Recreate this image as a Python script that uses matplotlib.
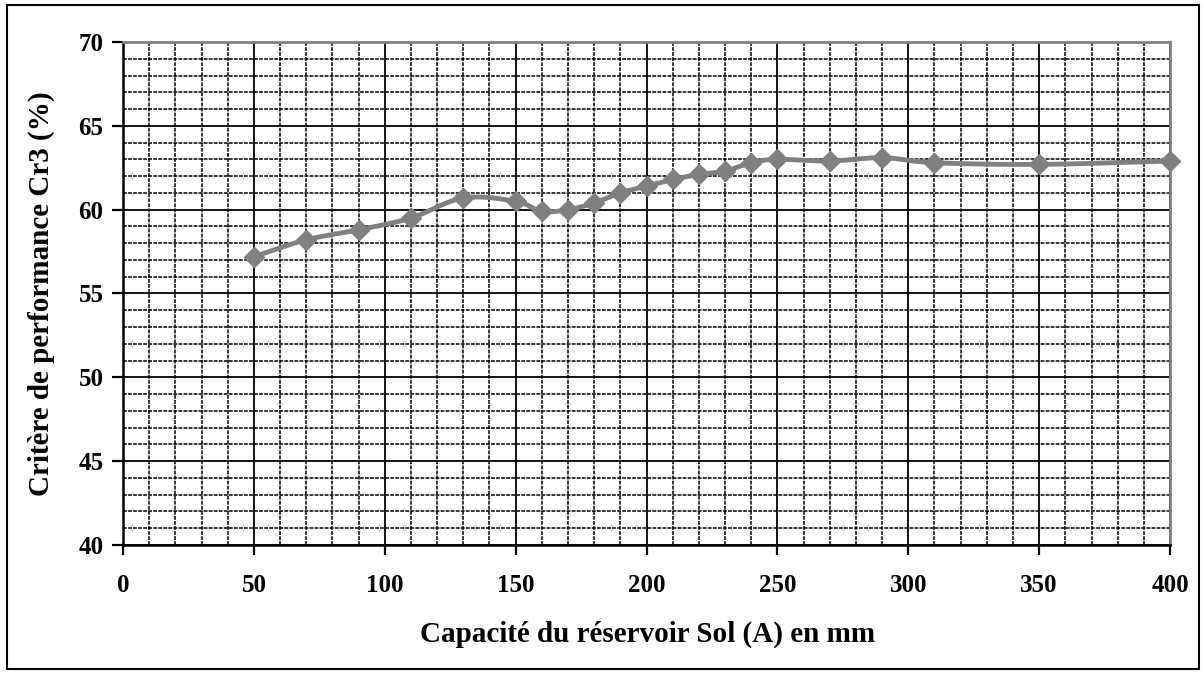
import numpy as np
import matplotlib
matplotlib.use("Agg")
from matplotlib import pyplot as plt
from matplotlib.patches import Rectangle

# data
capacite = [50, 70, 90, 110, 130, 150, 160, 170, 180, 190, 200, 210, 220,
            230, 240, 250, 270, 290, 310, 350, 400]
cr3 = [57.2, 58.2, 58.8, 59.5, 60.7, 60.5, 59.9, 60.0, 60.4, 61.0, 61.4,
       61.8, 62.1, 62.3, 62.8, 63.0, 62.9, 63.1, 62.8, 62.7, 62.9]


def smooth(x, y, n=20):
    # Catmull-Rom spline through the points (like Excel "smoothed line")
    x = np.asarray(x, float)
    y = np.asarray(y, float)
    px = np.concatenate([[2 * x[0] - x[1]], x, [2 * x[-1] - x[-2]]])
    py = np.concatenate([[2 * y[0] - y[1]], y, [2 * y[-1] - y[-2]]])
    xs, ys = [], []
    t = np.linspace(0, 1, n)
    for i in range(1, len(px) - 2):
        for p, out in ((px, xs), (py, ys)):
            p0, p1, p2, p3 = p[i - 1], p[i], p[i + 1], p[i + 2]
            out.extend(0.5 * ((2 * p1) + (-p0 + p2) * t
                              + (2 * p0 - 5 * p1 + 4 * p2 - p3) * t ** 2
                              + (-p0 + 3 * p1 - 3 * p2 + p3) * t ** 3))
    return xs, ys


plt.rcParams['font.family'] = ['Liberation Serif', 'DejaVu Serif']
plt.rcParams['font.weight'] = 'bold'

fig = plt.figure(figsize=(12.04, 6.73), dpi=100)
ax = fig.add_axes([0.1022, 0.1902, 0.8696, 0.7474])

ax.set_xlim(0, 400)
ax.set_ylim(40, 70)
ax.set_xticks(np.arange(0, 401, 50))
ax.set_xticks(np.arange(0, 401, 10), minor=True)
ax.set_yticks(np.arange(40, 71, 5))
ax.set_yticks(np.arange(40, 71, 1), minor=True)

ax.grid(which='minor', color='black', linestyle=(0, (2.5, 0.8)), linewidth=1.1)
ax.grid(which='major', color='black', linestyle='-', linewidth=1.3)
ax.set_axisbelow(True)

sx, sy = smooth(capacite, cr3)
ax.plot(sx, sy, color='#808080', linewidth=3.5, solid_capstyle='round', zorder=3)
ax.plot(capacite, cr3, linestyle='none', marker='D', markersize=10,
        color='#808080', zorder=4, clip_on=False)

for s in ('top', 'right'):
    ax.spines[s].set_color('#808080')
    ax.spines[s].set_linewidth(2)
for s in ('left', 'bottom'):
    ax.spines[s].set_color('black')
    ax.spines[s].set_linewidth(1.8)

ax.tick_params(axis='x', which='major', direction='out', length=7, width=1.6,
               labelsize=18, pad=14)
ax.tick_params(axis='y', which='major', direction='out', length=8, width=1.6,
               labelsize=18, pad=6)
ax.tick_params(which='minor', length=0)
for lab in ax.get_xticklabels() + ax.get_yticklabels():
    lab.set_fontweight('bold')

ax.set_xlabel('Capacité du réservoir Sol (A) en mm', fontsize=21,
              fontweight='bold')
ax.set_ylabel('Critère de performance Cr3 (%)', fontsize=21,
              fontweight='bold')
ax.xaxis.label.set_va('center')
ax.yaxis.label.set_va('center')
ax.xaxis.set_label_coords(0.5005, -0.177)
ax.yaxis.set_label_coords(-0.0783, 0.5)

fig.patches.append(Rectangle((0.006, 0.006), 0.990, 0.986,
                             transform=fig.transFigure, fill=False,
                             edgecolor='black', linewidth=1.5))

fig.savefig('out.png', dpi=100)
